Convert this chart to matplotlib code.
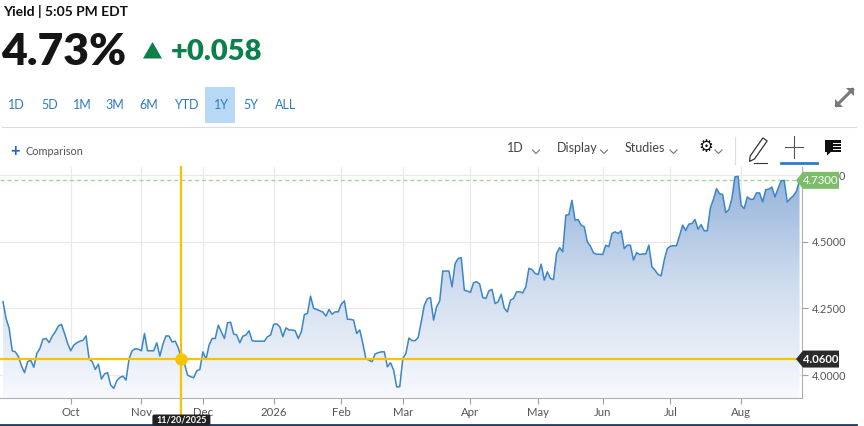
import numpy as np
import pandas as pd
import matplotlib
matplotlib.use("Agg")
import matplotlib.pyplot as plt
from matplotlib.transforms import Affine2D, blended_transform_factory
from matplotlib.lines import Line2D
from matplotlib.patches import Polygon, Rectangle, FancyBboxPatch
from matplotlib.colors import LinearSegmentedColormap

plt.rcParams['font.family'] = ['Lato', 'DejaVu Sans']

# ---------------- data (daily yield, one list per month) ----------------
sep = [4.275, 4.212, 4.175, 4.091, 4.087, 4.069, 4.034, 4.009, 4.050, 4.056, 4.029,
       4.081, 4.100, 4.135, 4.137, 4.122, 4.146, 4.162, 4.184, 4.190, 4.156, 4.119]
oct_ = [4.091, 4.112, 4.121, 4.127, 4.130, 4.147, 4.059, 4.051, 4.021, 4.041, 3.985, 4.004,
        4.009, 3.963, 3.950, 3.979, 3.991, 3.996, 3.981, 4.062, 4.091, 4.099, 4.097]
nov = [4.091, 4.156, 4.091, 4.091, 4.091, 4.121, 4.071, 4.116, 4.147, 4.146,
       4.124, 4.127, 4.102, 4.060, 4.044, 4.000, 3.994, 3.990, 4.016, 4.021]
dec = [4.087, 4.059, 4.112, 4.137, 4.137, 4.187, 4.162, 4.137, 4.196, 4.198, 4.154, 4.150,
       4.121, 4.146, 4.150, 4.166, 4.129, 4.127, 4.127, 4.127, 4.127, 4.144, 4.150]
jan = [4.190, 4.192, 4.181, 4.144, 4.177, 4.169, 4.169, 4.166, 4.137, 4.162, 4.227,
       4.231, 4.296, 4.250, 4.246, 4.241, 4.236, 4.221, 4.246, 4.228, 4.237, 4.237]
feb = [4.266, 4.278, 4.209, 4.209, 4.206, 4.156, 4.169, 4.119, 4.061, 4.056,
       4.050, 4.079, 4.084, 4.087, 4.087, 4.031, 4.046, 4.019, 3.956, 3.956]
mar = [4.062, 4.081, 4.139, 4.129, 4.129, 4.141, 4.200, 4.262, 4.287, 4.290, 4.206,
       4.256, 4.278, 4.390, 4.390, 4.390, 4.331, 4.418, 4.437, 4.440, 4.318, 4.315]
apr = [4.310, 4.346, 4.350, 4.341, 4.291, 4.287, 4.316, 4.321, 4.268, 4.275, 4.303,
       4.250, 4.237, 4.281, 4.287, 4.312, 4.312, 4.308, 4.331, 4.400, 4.396, 4.381]
may = [4.377, 4.416, 4.356, 4.387, 4.362, 4.358, 4.456, 4.478, 4.462, 4.599, 4.602,
       4.655, 4.581, 4.583, 4.562, 4.556, 4.499, 4.483, 4.458, 4.453, 4.453]
jun = [4.452, 4.487, 4.481, 4.531, 4.537, 4.531, 4.541, 4.474, 4.487, 4.487, 4.431,
       4.459, 4.452, 4.454, 4.454, 4.487, 4.406, 4.393, 4.377, 4.372, 4.431, 4.474]
jul = [4.483, 4.485, 4.485, 4.524, 4.562, 4.542, 4.566, 4.568, 4.583, 4.547, 4.564, 4.541,
       4.541, 4.627, 4.659, 4.699, 4.680, 4.677, 4.609, 4.620, 4.662, 4.743, 4.745]
aug = [4.637, 4.624, 4.668, 4.659, 4.659, 4.683, 4.683, 4.649, 4.695, 4.697,
       4.705, 4.668, 4.699, 4.728, 4.730, 4.649, 4.662, 4.672, 4.689, 4.730]

start_date = "2025-09-01"
end_date = "2026-08-28"
month_labels = ["Oct", "Nov", "Dec", "2026", "Feb", "Mar", "Apr", "May", "Jun", "Jul", "Aug"]
y_ticks = [4.0, 4.25, 4.5, 4.75]
range_buttons = ["1D", "5D", "1M", "3M", "6M", "YTD", "1Y", "5Y", "ALL"]
selected_range = "1Y"
title_text = "Yield | 5:05 PM EDT"
last_yield = 4.73
change = 0.058
cross_date = "2025-11-20"
cross_value = 4.06
toolbar_items = ["1D", "Display", "Studies"]

yield_values = np.array(sep + oct_ + nov + dec + jan + feb + mar + apr + may + jun + jul + aug)
dates = pd.bdate_range(start_date, end_date)
n = min(len(dates), len(yield_values))
dates = dates[:n]
yield_values = yield_values[:n]
x = np.arange(n)

# ---------------- figure ----------------
W, H = 864, 426
fig = plt.figure(figsize=(W / 100, H / 100), dpi=100)
fig.patch.set_facecolor("white")
pix = Affine2D().scale(1 / W, -1 / H).translate(0, 1) + fig.transFigure

ax = fig.add_axes([0, 1 - 398 / H, 802 / W, (398 - 167) / H])
x0, x1 = -0.98, 259.8
y0, y1 = 3.914, 4.78

# gradient area fill
cmap = LinearSegmentedColormap.from_list("area", ["#f7f9fd", "#cfdcee", "#8fb0d9"])
grad = np.linspace(0, 1, 256).reshape(-1, 1)
im = ax.imshow(grad, extent=[x0, x1, y0, y1], origin="lower", aspect="auto",
               cmap=cmap, zorder=1, interpolation="bilinear")
fb = ax.fill_between(x, yield_values, y0, facecolor="none", edgecolor="none")
im.set_clip_path(fb.get_paths()[0], transform=ax.transData)

ax.plot(x, yield_values, color="#3a86c8", lw=1.1, zorder=3, solid_joinstyle="round")
ax.axhline(last_yield, color="#a6d49a", lw=1.0, ls=(0, (3, 2)), zorder=2)

ax.set_xlim(x0, x1)
ax.set_ylim(y0, y1)

month_ticks = [i for i in range(1, n) if dates[i].month != dates[i - 1].month]
ax.set_xticks(month_ticks)
ax.set_xticklabels(month_labels[:len(month_ticks)])
ax.yaxis.tick_right()
ax.set_yticks(y_ticks)
ax.set_yticklabels([f"{v:.4f}" for v in y_ticks])
ax.tick_params(axis="y", length=4, color="#a0a0a0", labelsize=7.8, labelcolor="#555555", pad=3)
ax.tick_params(axis="x", length=4, color="#a0a0a0", labelsize=8.2, labelcolor="#555555", pad=2.5)
ax.grid(True, color="#e9e9e9", lw=0.8)
ax.set_axisbelow(True)
for s in ["left", "top"]:
    ax.spines[s].set_visible(False)
for s in ["bottom", "right"]:
    ax.spines[s].set_color("#b0b0b0")
    ax.spines[s].set_linewidth(0.8)

# crosshair
ci = int(np.where(dates == pd.Timestamp(cross_date))[0][0])
yellow = "#f8c300"
vt = blended_transform_factory(ax.transData, fig.transFigure)
fig.add_artist(Line2D([ci, ci], [1 - 167 / H, 1 - 414 / H], transform=vt, color=yellow, lw=1.6, zorder=4))
ht = blended_transform_factory(fig.transFigure, ax.transData)
fig.add_artist(Line2D([0, 796 / W], [cross_value, cross_value], transform=ht, color=yellow, lw=1.6, zorder=4))
ax.plot(ci, cross_value, "o", ms=8, color=yellow, zorder=6, clip_on=False)

ax.plot(x[-1], yield_values[-1], "o", ms=4, color="#27a9e1", zorder=7, clip_on=False)


def ytop(v):
    return H - ax.transData.transform((0, v))[1]


def right_label(v, fc, bold=False):
    yt = ytop(v)
    pts = [(796, yt), (803, yt - 8.5), (839, yt - 8.5), (839, yt + 8.5), (803, yt + 8.5)]
    fig.add_artist(Polygon(pts, closed=True, transform=pix, facecolor=fc, edgecolor="none", zorder=8))
    fig.text(821, yt, f"{v:.4f}", transform=pix, ha="center", va="center", fontsize=8.2,
             color="white", fontweight="bold" if bold else "normal", zorder=9)


right_label(last_yield, "#7cbd69")
right_label(cross_value, "#2b2b2b", bold=True)

# date label under crosshair
cx = ax.transData.transform((ci, 0))[0]
fig.add_artist(FancyBboxPatch((cx - 29, 414.5), 58, 11, boxstyle="round,pad=0,rounding_size=2",
                              transform=pix, facecolor="#222222", edgecolor="none", zorder=8))
fig.text(cx + 0.5, 420.2, pd.Timestamp(cross_date).strftime("%m/%d/%Y"), transform=pix,
         ha="center", va="center", fontsize=6.5, color="white", fontweight="bold", zorder=9)

# bottom navy line
fig.add_artist(Line2D([0, 856], [425, 425], transform=pix, color="#1d3a63", lw=2))

# ---------------- header ----------------
fig.text(3, 15.5, title_text, transform=pix, fontsize=10, fontweight="bold", color="#111111", va="baseline")
fig.text(1, 65, f"{last_yield:.2f}%", transform=pix, fontsize=32, fontweight="heavy",
         color="#151515", va="baseline")
green = "#0c7f4b"
fig.add_artist(Polygon([(143, 58.5), (152.5, 42), (162, 58.5)], closed=True, transform=pix,
                       facecolor=green, edgecolor="none"))
fig.text(171, 59.5, f"+{change:.3f}", transform=pix, fontsize=21, fontweight="heavy", color=green, va="baseline")

btn_x = [8.3, 41, 73.3, 105.7, 139.3, 174, 214.3, 243.3, 275.3]
for bx, lab in zip(btn_x, range_buttons):
    if lab == selected_range:
        fig.add_artist(Rectangle((205, 87.3), 30, 35.4, transform=pix, facecolor="#b8d9f5", edgecolor="none"))
    fig.text(bx, 109.3, lab, transform=pix, fontsize=9, color="#2d7bbf", va="baseline")

fig.add_artist(Line2D([2, 856], [126.5, 126.5], transform=pix, color="#dcdcdc", lw=0.8))

# expand icon
fig.add_artist(Line2D([836.5, 852.5], [105.5, 89.5], transform=pix, color="#7a7a7a", lw=2.2))
for (tx, ty, d) in [(854, 88, 1), (835, 107, -1)]:
    fig.add_artist(Polygon([(tx, ty), (tx - d * 8, ty), (tx, ty + d * 8)], closed=True,
                           transform=pix, facecolor="#7a7a7a", edgecolor="none"))

# comparison
fig.text(15, 151, "+", transform=pix, fontsize=12, fontweight="bold", color="#1e63d0",
         ha="center", va="center")
fig.text(25, 155, "Comparison", transform=pix, fontsize=7.8, color="#555555", va="baseline")

# toolbar
tb_x = [506.5, 556.5, 625]
for tx, lab in zip(tb_x, toolbar_items):
    fig.text(tx, 152.5, lab, transform=pix, fontsize=9, color="#444444", va="baseline")
for cx_ in [536, 604, 673.5, 718.5]:
    fig.add_artist(Line2D([cx_ - 3.5, cx_, cx_ + 3.5], [150, 153.5, 150], transform=pix,
                          color="#777777", lw=0.8))
fig.text(706, 147.5, "\u2699", transform=pix, fontsize=12, color="#111111", ha="center",
         va="center", family="DejaVu Sans")
fig.add_artist(Line2D([735, 735], [137, 164], transform=pix, color="#dddddd", lw=0.8))

# pencil
tip = np.array([749.5, 161.5])
top = np.array([765.0, 139.5])
d = (top - tip) / np.linalg.norm(top - tip)
nrm = np.array([d[1], -d[0]])
hw = 2.6
p1 = tip + d * 5 + nrm * hw
p2 = top + nrm * hw
p3 = top - nrm * hw
p4 = tip + d * 5 - nrm * hw
fig.add_artist(Polygon([tip, p1, p2, p3, p4], closed=True, transform=pix, facecolor="white",
                       edgecolor="#333333", lw=0.9))
fig.add_artist(Line2D([754, 767], [162.5, 162.5], transform=pix, color="#333333", lw=0.8))

# crosshair icon
fig.add_artist(Line2D([794, 794], [136, 158], transform=pix, color="#555555", lw=0.8))
fig.add_artist(Line2D([785, 803], [147, 147], transform=pix, color="#555555", lw=0.8))
fig.add_artist(Line2D([781, 817], [163, 163], transform=pix, color="#2b7bd6", lw=2))

# comment icon
fig.add_artist(Rectangle((825, 139.5), 16, 12, transform=pix, facecolor="#111111", edgecolor="none"))
fig.add_artist(Polygon([(827, 151), (827, 155.5), (832, 151)], closed=True, transform=pix,
                       facecolor="#111111", edgecolor="none"))
for yy in [143, 146, 149]:
    fig.add_artist(Line2D([833, 839.5], [yy, yy], transform=pix, color="white", lw=0.7))

fig.savefig("out.png", dpi=100, facecolor="white")
